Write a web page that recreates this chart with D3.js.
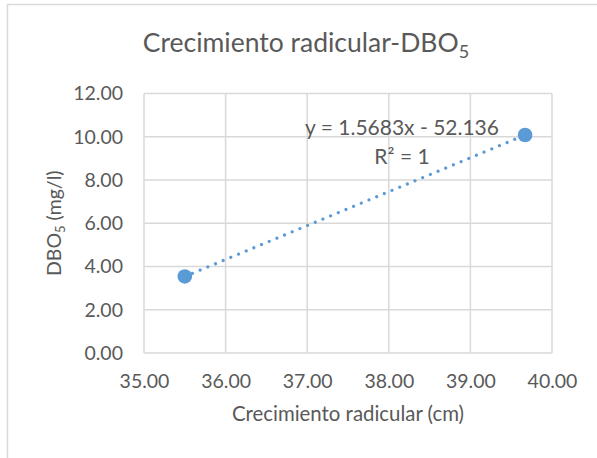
<!DOCTYPE html>
<html lang="es">

<head>
    <meta charset="UTF-8">
    <title>Crecimiento radicular-DBO5</title>
    <script src="https://d3js.org/d3.v7.min.js"></script>
    <style>
        body {
            margin: 0;
            background: #fff;
        }

        svg text {
            font-family: Lato, "Open Sans", sans-serif;
            fill: #595959;
        }
    </style>
</head>

<body>
    <div id="chart"></div>

    <script>
        // datos
        const crecimiento = [35.50, 39.67];   // cm
        const dbo5 = [3.54, 10.08];           // mg/l
        const xTicks = [35, 36, 37, 38, 39, 40];
        const yTicks = [0, 2, 4, 6, 8, 10, 12];
        const slope = 1.5683;
        const intercept = -52.136;
        const eqLabels = ['y = 1.5683x - 52.136', 'R² = 1'];

        const width = 597;
        const height = 458;
        const margin = { top: 93.5, right: 45, bottom: 105, left: 144 };
        const grid = '#d9d9d9';
        const blue = '#5b9bd5';

        const svg = d3.select('#chart')
            .append('svg')
            .attr('width', width)
            .attr('height', height);

        // borde del area del grafico (cortado a la derecha y abajo)
        svg.append('rect')
            .attr('x', 7.5)
            .attr('y', 4.5)
            .attr('width', 700)
            .attr('height', 600)
            .attr('fill', '#fff')
            .attr('stroke', grid)
            .attr('stroke-width', 1.5);

        const x = d3.scaleLinear()
            .domain([35, 40])
            .range([margin.left, width - margin.right]);

        const y = d3.scaleLinear()
            .domain([0, 12])
            .range([height - margin.bottom, margin.top]);

        // rejilla vertical
        svg.append('g')
            .selectAll('line')
            .data(xTicks)
            .join('line')
            .attr('x1', d => x(d))
            .attr('x2', d => x(d))
            .attr('y1', y(0))
            .attr('y2', y(12))
            .attr('stroke', grid)
            .attr('stroke-width', 1.5);

        // rejilla horizontal
        svg.append('g')
            .selectAll('line')
            .data(yTicks)
            .join('line')
            .attr('x1', x(35))
            .attr('x2', x(40))
            .attr('y1', d => y(d))
            .attr('y2', d => y(d))
            .attr('stroke', grid)
            .attr('stroke-width', 1.5);

        // etiquetas de los ejes
        const xAxis = svg.append('g')
            .attr('transform', `translate(0,${y(0)})`)
            .call(d3.axisBottom(x).tickValues(xTicks).tickFormat(d3.format('.2f')).tickSize(0).tickPadding(35));
        xAxis.select('.domain').remove();
        xAxis.selectAll('text')
            .attr('dy', 0)
            .style('font-size', '19.5px');

        const yAxis = svg.append('g')
            .attr('transform', `translate(${x(35)},0)`)
            .call(d3.axisLeft(y).tickValues(yTicks).tickFormat(d3.format('.2f')).tickSize(0).tickPadding(21));
        yAxis.select('.domain').remove();
        yAxis.selectAll('text')
            .style('font-size', '19.5px');

        // linea de tendencia (punteada)
        const xr = d3.extent(crecimiento);
        svg.append('line')
            .attr('x1', x(xr[0]))
            .attr('y1', y(slope * xr[0] + intercept))
            .attr('x2', x(xr[1]))
            .attr('y2', y(slope * xr[1] + intercept))
            .attr('stroke', blue)
            .attr('stroke-width', 3.2)
            .attr('stroke-linecap', 'round')
            .attr('stroke-dasharray', '0.01 8.3');

        // puntos
        svg.append('g')
            .selectAll('circle')
            .data(crecimiento)
            .join('circle')
            .attr('cx', d => x(d))
            .attr('cy', (d, i) => y(dbo5[i]))
            .attr('r', 7.3)
            .attr('fill', blue);

        // ecuacion
        svg.append('g')
            .selectAll('text')
            .data(eqLabels)
            .join('text')
            .attr('x', 402)
            .attr('y', (d, i) => 135 + i * 29)
            .attr('text-anchor', 'middle')
            .style('font-size', '21px')
            .text(d => d);

        // titulo
        const title = svg.append('text')
            .attr('x', 306)
            .attr('y', 52)
            .attr('text-anchor', 'middle')
            .style('font-size', '26.5px');
        title.append('tspan').text('Crecimiento radicular-DBO');
        title.append('tspan').attr('dy', 6).style('font-size', '18px').text('5');

        // titulo eje x
        svg.append('text')
            .attr('x', (x(35) + x(40)) / 2)
            .attr('y', 421)
            .attr('text-anchor', 'middle')
            .style('font-size', '20.4px')
            .text('Crecimiento radicular (cm)');

        // titulo eje y
        const yTitle = svg.append('text')
            .attr('transform', `translate(61,${(y(0) + y(12)) / 2}) rotate(-90)`)
            .attr('text-anchor', 'middle')
            .style('font-size', '19.5px');
        yTitle.append('tspan').text('DBO');
        yTitle.append('tspan').attr('dy', 4).style('font-size', '13px').text('5');
        yTitle.append('tspan').attr('dy', -4).text(' (mg/l)');
    </script>
</body>

</html>
